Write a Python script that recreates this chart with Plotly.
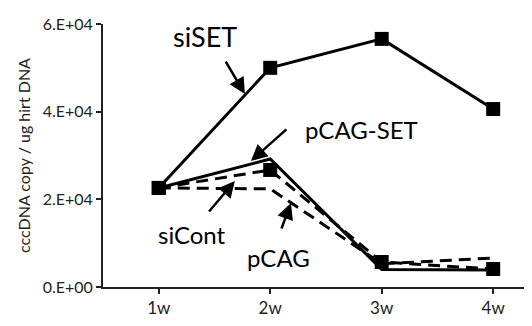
import plotly.graph_objects as go

weeks = ["1w", "2w", "3w", "4w"]
siSET = [22600, 50000, 56600, 40600]
pCAG_SET = [22600, 29200, 4000, 3900]
siCont = [22600, 26700, 5700, 4100]
pCAG = [22600, 22400, 5300, 6600]
y_ticks = [0, 20000, 40000, 60000]
y_ticktext = ["0.E+00", "2.E+04", "4.E+04", "6.E+04"]

FONT = "Lato"
fig = go.Figure()
fig.add_trace(go.Scatter(x=weeks, y=pCAG, mode="lines",
                         line=dict(color="black", width=3, dash="12px,7px")))
fig.add_trace(go.Scatter(x=weeks, y=siCont, mode="lines+markers",
                         line=dict(color="black", width=3, dash="12px,7px"),
                         marker=dict(symbol="square", size=14, color="black")))
fig.add_trace(go.Scatter(x=weeks, y=pCAG_SET, mode="lines",
                         line=dict(color="black", width=3)))
fig.add_trace(go.Scatter(x=weeks, y=siSET, mode="lines+markers",
                         line=dict(color="black", width=3),
                         marker=dict(symbol="square", size=14, color="black")))

labels = [
    ("siSET", 0.413, 57250, 27),
    ("pCAG-SET", 1.815, 35820, 24),
    ("siCont", 0.296, 12090, 24),
    ("pCAG", 1.078, 6800, 24),
]
for t, x, y, s in labels:
    fig.add_annotation(x=x, y=y, xref="x", yref="y", text=t, showarrow=False,
                       font=dict(family=FONT, size=s, color="black"))

arrows = [
    (0.773, 44030, 0.593, 51780),
    (0.827, 28750, 1.159, 36270),
    (0.683, 24180, 0.44, 16880),
    (1.186, 19160, 1.096, 13000),
]
for x, y, ax, ay in arrows:
    fig.add_annotation(x=x, y=y, ax=ax, ay=ay, xref="x", yref="y",
                       axref="x", ayref="y", text="", showarrow=True,
                       arrowhead=2, arrowsize=1.3, arrowwidth=2.5, arrowcolor="black")

fig.update_layout(
    width=532, height=326, showlegend=False,
    margin=dict(l=95, r=0, t=16, b=47),
    plot_bgcolor="white", paper_bgcolor="white",
    font=dict(family=FONT, size=16, color="#222"),
    xaxis=dict(range=[-0.5, 3.42], showline=True, linecolor="#222", linewidth=2,
               ticks="outside", ticklen=5, tickwidth=2, tickcolor="#222",
               showgrid=False, zeroline=False, tickfont=dict(size=17)),
    yaxis=dict(range=[0, 60000], showline=True, linecolor="#222", linewidth=2,
               ticks="outside", ticklen=5, tickwidth=2, tickcolor="#222",
               tickvals=y_ticks, ticktext=y_ticktext, showgrid=False, zeroline=False,
               tickfont=dict(size=16),
               title=dict(text="cccDNA copy / ug hirt DNA", font=dict(size=16), standoff=8)),
)
fig.write_html("out.html")
